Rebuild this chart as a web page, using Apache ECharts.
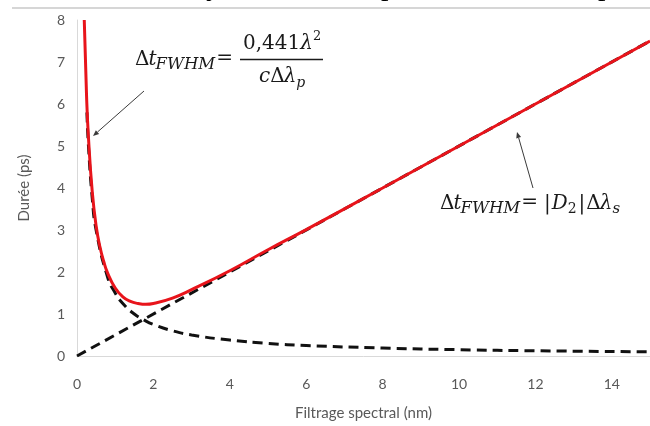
<!DOCTYPE html>
<html><head><meta charset="utf-8">
<script src="https://cdn.jsdelivr.net/npm/echarts@6/dist/echarts.min.js"></script>
<style>html,body{margin:0;padding:0;background:#fff}#c{width:650px;height:426px}</style>
</head><body><div id="c"></div>
<script>
// Data
const xTicks = [0, 2, 4, 6, 8, 10, 12, 14];
const yTicks = [0, 1, 2, 3, 4, 5, 6, 7, 8];
// total duration (red)
const totalX = [0.19, 0.25, 0.3, 0.4, 0.5, 0.6, 0.7, 0.8, 1.0, 1.2, 1.4, 1.6, 1.8, 2.0, 2.5, 3, 4, 5, 6, 8, 10, 12, 15];
const totalY = [8.0, 6.2, 5.2, 3.9, 3.1, 2.6, 2.25, 1.98, 1.62, 1.41, 1.30, 1.25, 1.23, 1.25, 1.38, 1.58, 2.03, 2.53, 3.01, 4.0, 5.0, 6.0, 7.5];
// Fourier-limited contribution (dashed, decreasing)
const limX = [0.26, 0.3, 0.4, 0.5, 0.8, 1.0, 1.2, 1.5, 1.75, 2, 2.5, 3, 4, 5, 6, 8, 10, 12, 15];
const limY = [5.8, 5.0, 3.75, 3.0, 1.88, 1.5, 1.25, 1.0, 0.86, 0.75, 0.6, 0.5, 0.38, 0.3, 0.25, 0.19, 0.15, 0.125, 0.1];
// dispersion contribution (dashed, linear)
const dispX = [0, 15];
const dispY = [0, 7.5];

const zip = (a, b) => a.map((v, i) => [v, b[i]]);
const chart = echarts.init(document.getElementById('c'), null, {renderer: 'canvas'});
const gray = '#595959';
const serif = 'DejaVu Serif';
const ctx = document.createElement('canvas').getContext('2d');
const fontOf = (size, italic) => (italic ? 'italic ' : '') + size + 'px "' + serif + '"';

function arrow(x1, y1, x2, y2) {
  const dx = x2 - x1, dy = y2 - y1, L = Math.hypot(dx, dy);
  const ux = dx / L, uy = dy / L, h = 6, w = 2.5;
  const bx = x2 - ux * h, by = y2 - uy * h;
  return [
    {type: 'line', shape: {x1, y1, x2: bx, y2: by}, style: {stroke: '#3a3a3a', lineWidth: 1}},
    {type: 'polygon', shape: {points: [[x2, y2], [bx - uy * w, by + ux * w], [bx + uy * w, by - ux * w]]}, style: {fill: '#3a3a3a'}}
  ];
}
// parts: [text, size, italic, dy, extraGapAfter]
function chain(x, y, parts) {
  const out = [];
  let cx = x;
  parts.forEach(p => {
    const f = fontOf(p[1], p[2]);
    out.push({type: 'text', x: cx, y: y + (p[3] || 0), style: {text: p[0], font: f, fill: '#1a1a1a', verticalAlign: 'middle'}});
    ctx.font = f;
    cx += ctx.measureText(p[0]).width + (p[4] || 0);
  });
  return out;
}

let graphics = [
  {type: 'line', shape: {x1: 12, y1: 8, x2: 650, y2: 8}, style: {stroke: '#c8c8c8', lineWidth: 1.5}},
  {type: 'text', x: 206, y: -13, style: {text: 'y', font: '30px "Liberation Serif"', fill: '#000', verticalAlign: 'middle'}},
  {type: 'text', x: 381, y: -13, style: {text: 'p', font: '30px "Liberation Serif"', fill: '#000', verticalAlign: 'middle'}},
  {type: 'text', x: 598, y: -13, style: {text: 'p', font: '30px "Liberation Serif"', fill: '#000', verticalAlign: 'middle'}},
  {type: 'line', shape: {x1: 240, y1: 59.5, x2: 323, y2: 59.5}, style: {stroke: '#1a1a1a', lineWidth: 1.4}}
];
graphics = graphics
  .concat(chain(135, 60, [['Δ', 20, false, 0, -1], ['t', 20, true, 0, -1], ['FWHM', 16.5, true, 5, 1], ['=', 20, false, -1]]))
  .concat(chain(243, 44, [['0,441', 20, false], ['λ', 20, true], ['2', 13, false, -7]]))
  .concat(chain(259, 77, [['c', 20, true], ['Δ', 20, false, 0, -1], ['λ', 20, true], ['p', 14, true, 6]]))
  .concat(chain(440, 204, [['Δ', 20, false, 0, -1], ['t', 20, true, 0, -1], ['FWHM', 16.5, true, 5, 1], ['=', 20, false, -1, 6],
    ['|', 20, false, 0, 1], ['D', 20, true], ['2', 14, false, 5, 2], ['|', 20, false, 0, 1], ['Δ', 20, false, 0, -1], ['λ', 20, true], ['s', 15, true, 5]]))
  .concat(arrow(144, 91, 93, 136))
  .concat(arrow(533, 188, 517, 132));

chart.setOption({
  animation: false,
  grid: {left: 77, right: 0, top: 20, bottom: 68},
  xAxis: {
    type: 'value', min: 0, max: 15, interval: 2,
    name: 'Filtrage spectral (nm)', nameLocation: 'middle', nameGap: 50,
    nameTextStyle: {color: gray, fontSize: 15, fontFamily: 'Lato'},
    axisLine: {show: true, lineStyle: {color: '#d9d9d9', width: 1}},
    axisTick: {show: false}, splitLine: {show: false},
    axisLabel: {color: gray, fontSize: 14, fontFamily: 'Lato', margin: 21, showMaxLabel: false,
      formatter: v => xTicks.includes(v) ? String(v) : ''}
  },
  yAxis: {
    type: 'value', min: 0, max: 8, interval: 1,
    name: 'Durée (ps)', nameLocation: 'middle', nameGap: 45,
    nameTextStyle: {color: gray, fontSize: 15, fontFamily: 'Lato'},
    axisLine: {show: true, lineStyle: {color: '#d9d9d9', width: 1}},
    axisTick: {show: false}, splitLine: {show: false},
    axisLabel: {color: gray, fontSize: 14, fontFamily: 'Lato', margin: 12,
      formatter: v => yTicks.includes(v) ? String(v) : ''}
  },
  series: [
    {type: 'line', data: zip(limX, limY), smooth: true, symbol: 'none', z: 2,
      lineStyle: {color: '#111', width: 3, type: [10, 6]}},
    {type: 'line', data: zip(dispX, dispY), symbol: 'none', z: 2,
      lineStyle: {color: '#111', width: 3, type: [10, 6]}},
    {type: 'line', data: zip(totalX, totalY), smooth: true, symbol: 'none', z: 3,
      lineStyle: {color: '#e8141b', width: 3}}
  ],
  graphic: graphics
});
</script></body></html>
